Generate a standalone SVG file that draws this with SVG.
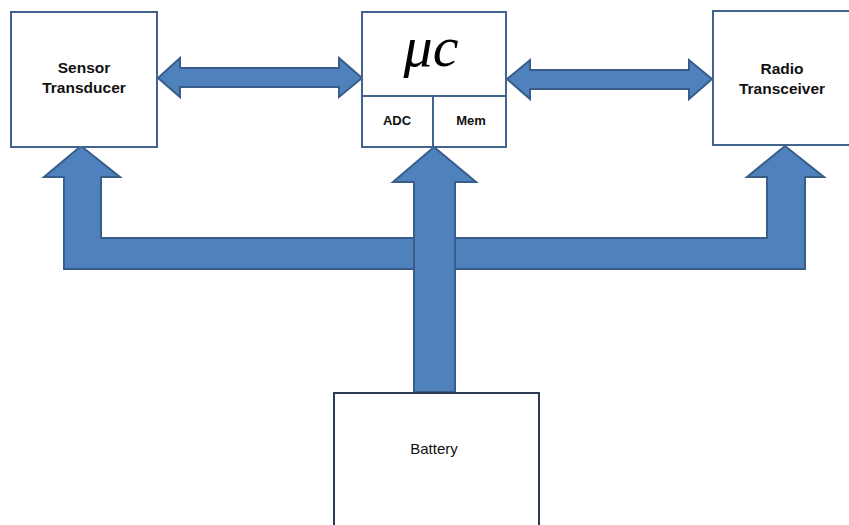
<svg xmlns="http://www.w3.org/2000/svg" width="849" height="525" viewBox="0 0 849 525">
<style>
.box{fill:#fff;stroke:#41648F;stroke-width:2}
.arr{fill:#4F81BD;stroke:#385D8A;stroke-width:2;stroke-linejoin:miter}
.lbl{font-family:"Liberation Sans",Arial,sans-serif;font-weight:bold;font-size:15.5px;fill:#111;text-anchor:middle}
.sm{font-family:"Liberation Sans",Arial,sans-serif;font-weight:bold;font-size:13px;fill:#111;text-anchor:middle}
</style>
<rect width="849" height="525" fill="#fff"/>
<g id="connectors">
<polygon class="arr" points="158,78 180,58 180,68 339,68 339,58 362,78 339,97 339,87 180,87 180,97"/>
<polygon class="arr" points="507,79 530,60 530,70 689,70 689,60 712,79 689,99 689,89 530,89 530,99"/>
<polygon class="arr" points="81,146 120,177 101,177 101,238 767,238 767,177 747,177 785,146 824,177 805,177 805,269 64,269 64,177 44,177"/>
<polygon class="arr" points="434,147 476,182 455,182 455,392 414,392 414,182 393,182"/>
</g>
<g id="sensor">
<rect class="box" x="11" y="12" width="146" height="135"/>
<text class="lbl" x="84" y="73">Sensor</text>
<text class="lbl" x="84" y="93">Transducer</text>
</g>
<g id="uc">
<rect class="box" x="362" y="12" width="144" height="135"/>
<line class="box" x1="362" y1="96" x2="506" y2="96"/>
<line class="box" x1="433" y1="96" x2="433" y2="147"/>
<text x="431" y="66" font-family="'Liberation Serif','Times New Roman',serif" font-style="italic" font-size="58" fill="#000" text-anchor="middle">μc</text>
<text class="sm" x="397" y="125">ADC</text>
<text class="sm" x="471" y="125">Mem</text>
</g>
<g id="radio">
<rect class="box" x="713" y="11" width="138" height="134"/>
<text class="lbl" x="782" y="74">Radio</text>
<text class="lbl" x="782" y="94">Transceiver</text>
</g>
<g id="battery">
<rect x="334" y="393" width="205" height="140" fill="#fff" stroke="#2B3A55" stroke-width="2"/>
<text x="434" y="454" font-family="'Liberation Sans',Arial,sans-serif" font-size="15" fill="#111" text-anchor="middle">Battery</text>
</g>
</svg>
